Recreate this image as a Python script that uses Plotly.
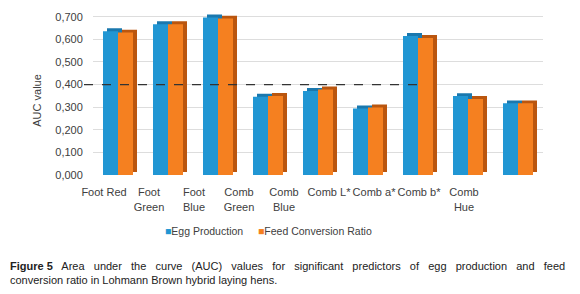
import plotly.graph_objects as go

categories = ["Foot Red", "Foot<br>Green", "Foot<br>Blue", "Comb<br>Green", "Comb<br>Blue",
              "Comb L*", "Comb a*", "Comb b*", "Comb<br>Hue"]
egg_production = [0.636, 0.667, 0.697, 0.346, 0.372, 0.294, 0.615, 0.349, 0.317]
feed_conversion = [0.630, 0.667, 0.692, 0.350, 0.378, 0.299, 0.606, 0.336, 0.317]
series_names = ["Egg Production", "Feed Conversion Ratio"]
threshold = 0.4
y_ticks = [0.0, 0.1, 0.2, 0.3, 0.4, 0.5, 0.6, 0.7]

BLUE = "#2196D3"
BLUE_DARK = "#1A78AE"
ORANGE = "#F58020"
ORANGE_DARK = "#BA560F"
FONT = "Liberation Sans, Arial, sans-serif"
GREY = "#404040"

idx = list(range(len(categories)))
dx, dy, w = 0.08, 0.013, 0.3

fig = go.Figure()
# depth (3D side/top) faces
fig.add_trace(go.Bar(x=idx, y=egg_production, base=dy, offset=-w + dx, width=w,
                     marker=dict(color=BLUE_DARK, line=dict(width=0)),
                     showlegend=False, hoverinfo="skip"))
fig.add_trace(go.Bar(x=idx, y=feed_conversion, base=dy, offset=dx, width=w,
                     marker=dict(color=ORANGE_DARK, line=dict(width=0)),
                     showlegend=False, hoverinfo="skip"))
# front faces
fig.add_trace(go.Bar(x=idx, y=egg_production, offset=-w, width=w, name=series_names[0],
                     marker=dict(color=BLUE, line=dict(width=0)), showlegend=False))
fig.add_trace(go.Bar(x=idx, y=feed_conversion, offset=0, width=w, name=series_names[1],
                     marker=dict(color=ORANGE, line=dict(width=0)), showlegend=False))
# invisible trace to carry the label axis
fig.add_trace(go.Scatter(x=idx, y=[None] * len(idx), xaxis="x2", showlegend=False,
                         hoverinfo="skip"))

fig.add_shape(type="line", xref="paper", yref="y", x0=-0.02, x1=0.739, y0=threshold, y1=threshold,
              line=dict(color="#333333", width=1.2, dash="dash"))

# legend (drawn as text with coloured squares)
leg_font = dict(family=FONT, size=10.5, color=GREY)
fig.add_annotation(xref="paper", yref="paper", x=0.155, y=-0.34, xanchor="left", yanchor="middle",
                   showarrow=False, font=leg_font,
                   text=f"<span style='color:{BLUE}'>■</span>{series_names[0]}")
fig.add_annotation(xref="paper", yref="paper", x=0.362, y=-0.34, xanchor="left", yanchor="middle",
                   showarrow=False, font=leg_font,
                   text=f"<span style='color:{ORANGE}'>■</span>{series_names[1]}")

cap_font = dict(family=FONT, size=11, color="#222222")
gap = " \u00a0 "
line1 = "Area under the curve (AUC) values for significant predictors of egg production and feed"
line1 = gap.join(line1.split(" "))
fig.add_annotation(
    xref="paper", yref="paper", x=-0.189, y=-0.5515, xanchor="left", yanchor="middle",
    showarrow=False, font=cap_font,
    text="<b>Figure 5</b>" + gap + line1)
fig.add_annotation(
    xref="paper", yref="paper", x=-0.189, y=-0.636, xanchor="left", yanchor="middle",
    showarrow=False, font=cap_font,
    text="conversion ratio in Lohmann Brown hybrid laying hens.")
fig.add_annotation(
    xref="paper", yref="paper", x=-0.1244, y=0.45, xanchor="center", yanchor="middle",
    textangle=-90, showarrow=False, text="AUC value",
    font=dict(family=FONT, size=11, color=GREY))

fig.update_layout(
    width=572, height=286,
    margin=dict(l=85, r=37, t=2, b=119),
    paper_bgcolor="white", plot_bgcolor="white",
    barmode="overlay",
    separators=", ",
    showlegend=False,
    font=dict(family=FONT, size=11, color=GREY),
    xaxis=dict(range=[-0.5, 8.5], showticklabels=False, showgrid=False, zeroline=False,
               showline=False, ticks="", automargin=False),
    xaxis2=dict(overlaying="x", anchor="y", side="bottom", range=[-0.2444, 9.7556],
                tickmode="array", tickvals=idx, ticktext=categories, tickangle=0,
                showgrid=False, zeroline=False, showline=False, ticks="outside", ticklen=7,
                tickcolor="rgba(0,0,0,0)", tickfont=dict(size=11, color=GREY), automargin=False),
    yaxis=dict(range=[0, 0.73], tickvals=y_ticks, tickformat=".3f", showgrid=True,
               gridcolor="#DDDDDD", gridwidth=1, zeroline=False, showline=False,
               ticks="outside", ticklen=7, tickcolor="rgba(0,0,0,0)",
               tickfont=dict(size=11, color=GREY), automargin=False),
)

fig.write_html("out.html")
